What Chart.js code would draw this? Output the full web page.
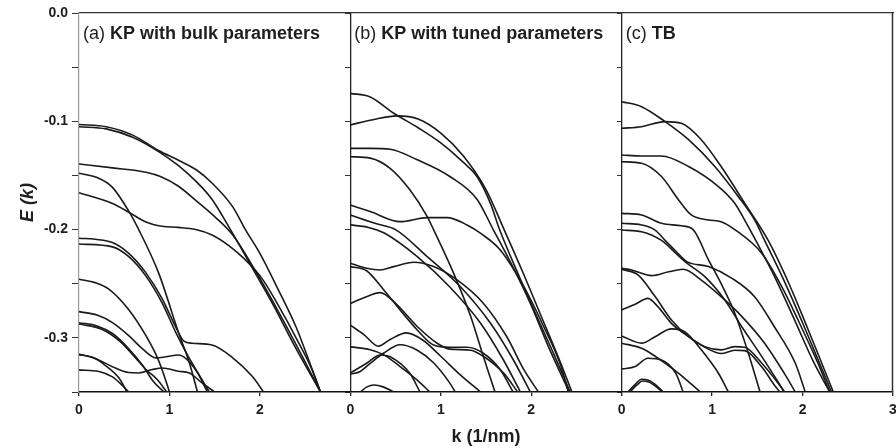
<!DOCTYPE html>
<html><head><meta charset="utf-8">
<script src="https://cdn.jsdelivr.net/npm/chart.js@4"></script>
<style>html,body{margin:0;padding:0;background:#fff;overflow:hidden}#wrap{width:896px;height:448px}</style>
</head><body><div id="wrap"><canvas id="c" width="896" height="448"></canvas></div>
<script>
// k range of each panel (1/nm); panels are drawn side by side on one k axis
const kPanelWidth = 3;
const kTickLabels = ['0','1','2','0','1','2','0','1','2','3'];
const panelTags = ['(a)','(b)','(c)'];
const panelNames = ['KP with bulk parameters','KP with tuned parameters','TB'];

// (a) KP with bulk parameters: each band is a list of [k, E]
const bandsA = [
  [[0,-0.103],[0.3,-0.105],[0.6,-0.113],[0.88,-0.127],[1.1,-0.136],[1.3,-0.145],[1.47,-0.157],[1.7,-0.179],[1.84,-0.2],[2.0,-0.222],[2.2,-0.255],[2.4,-0.29],[2.56,-0.325],[2.67,-0.35]],
  [[0,-0.105],[0.3,-0.107],[0.6,-0.115],[0.88,-0.128],[1.1,-0.141],[1.3,-0.156],[1.47,-0.172],[1.66,-0.198],[1.9,-0.233],[2.15,-0.27],[2.4,-0.31],[2.67,-0.35]],
  [[0,-0.1395],[0.37,-0.143],[0.74,-0.147],[0.9,-0.151],[1.1,-0.16],[1.29,-0.173],[1.5,-0.188],[1.7,-0.205],[1.95,-0.238],[2.2,-0.275],[2.45,-0.314],[2.67,-0.35]],
  [[0,-0.166],[0.37,-0.176],[0.55,-0.184],[0.74,-0.193],[0.92,-0.197],[1.1,-0.198],[1.29,-0.2],[1.47,-0.205],[1.66,-0.215],[1.84,-0.228],[2.03,-0.246],[2.21,-0.271],[2.4,-0.3],[2.58,-0.33],[2.67,-0.35]],
  [[0,-0.148],[0.2,-0.152],[0.37,-0.161],[0.55,-0.183],[0.66,-0.2],[0.88,-0.24],[1.1,-0.295],[1.22,-0.323],[1.31,-0.35]],
  [[0,-0.208],[0.18,-0.209],[0.37,-0.212],[0.55,-0.222],[0.74,-0.24],[0.92,-0.264],[1.07,-0.29],[1.16,-0.303],[1.25,-0.305],[1.47,-0.3066],[1.69,-0.3177],[1.92,-0.336],[2.04,-0.35]],
  [[0,-0.2133],[0.37,-0.216],[0.55,-0.225],[0.74,-0.243],[0.92,-0.268],[1.07,-0.295],[1.2,-0.316],[1.32,-0.333],[1.44,-0.35]],
  [[0,-0.2459],[0.18,-0.249],[0.33,-0.255],[0.55,-0.274],[0.74,-0.298],[0.87,-0.319],[0.95,-0.337],[1.0,-0.35]],
  [[0,-0.2758],[0.2,-0.279],[0.37,-0.286],[0.55,-0.298],[0.7,-0.31],[0.85,-0.3185],[0.96,-0.3175],[1.1,-0.3158],[1.18,-0.319],[1.3,-0.331],[1.42,-0.35]],
  [[0,-0.286],[0.2,-0.289],[0.37,-0.296],[0.55,-0.31],[0.7,-0.325],[0.82,-0.34],[0.94,-0.35]],
  [[0,-0.2872],[0.25,-0.292],[0.45,-0.303],[0.62,-0.318],[0.75,-0.33],[0.86,-0.338],[0.97,-0.35]],
  [[0,-0.3152],[0.18,-0.319],[0.37,-0.3266],[0.55,-0.332],[0.66,-0.3324],[0.81,-0.3293],[0.92,-0.3278],[1.1,-0.3308],[1.22,-0.3324],[1.36,-0.3416],[1.5,-0.35]],
  [[0,-0.3155],[0.15,-0.318],[0.3,-0.326],[0.45,-0.338],[0.53,-0.35]],
  [[0,-0.3296],[0.22,-0.331],[0.37,-0.336],[0.48,-0.344],[0.55,-0.35]]
];

// (b) KP with tuned parameters
const bandsB = [
  [[0,-0.0742],[0.22,-0.0775],[0.48,-0.0926],[0.75,-0.106],[1.0,-0.12],[1.25,-0.138],[1.4,-0.151],[1.55,-0.176],[1.65,-0.2],[1.85,-0.24],[2.05,-0.278],[2.25,-0.315],[2.43,-0.35]],
  [[0,-0.1034],[0.25,-0.0985],[0.52,-0.095],[0.75,-0.098],[1.0,-0.111],[1.25,-0.132],[1.5,-0.163],[1.7,-0.2],[1.9,-0.238],[2.1,-0.278],[2.3,-0.318],[2.45,-0.35]],
  [[0,-0.125],[0.22,-0.125],[0.44,-0.1258],[0.74,-0.1356],[1.1,-0.151],[1.4,-0.172],[1.58,-0.2],[1.8,-0.235],[2.0,-0.27],[2.2,-0.31],[2.42,-0.35]],
  [[0,-0.1773],[0.22,-0.1834],[0.55,-0.1927],[0.85,-0.189],[1.07,-0.189],[1.29,-0.1957],[1.45,-0.204],[1.66,-0.219],[1.92,-0.253],[2.14,-0.29],[2.32,-0.324],[2.41,-0.35]],
  [[0,-0.1327],[0.22,-0.134],[0.44,-0.1434],[0.66,-0.1635],[0.85,-0.188],[0.92,-0.2],[1.14,-0.24],[1.33,-0.28],[1.47,-0.317],[1.6,-0.35]],
  [[0,-0.1865],[0.29,-0.1947],[0.5,-0.2],[0.85,-0.225],[1.22,-0.253],[1.55,-0.2865],[1.8,-0.32],[1.99,-0.35]],
  [[0,-0.1957],[0.2,-0.198],[0.37,-0.203],[0.74,-0.225],[1.1,-0.253],[1.44,-0.2865],[1.69,-0.32],[1.88,-0.35]],
  [[0,-0.231],[0.18,-0.2357],[0.33,-0.2373],[0.48,-0.2342],[0.7,-0.2302],[0.92,-0.2342],[1.18,-0.2465],[1.47,-0.268],[1.73,-0.299],[1.92,-0.3296],[2.08,-0.35]],
  [[0,-0.2342],[0.18,-0.238],[0.37,-0.2558],[0.55,-0.2742],[0.74,-0.2927],[0.92,-0.3066],[1.1,-0.3087],[1.29,-0.3087],[1.47,-0.3142],[1.66,-0.3296],[1.8,-0.35]],
  [[0,-0.2682],[0.15,-0.263],[0.33,-0.2582],[0.48,-0.2665],[0.74,-0.2895],[0.96,-0.305],[1.1,-0.3104],[1.33,-0.3114],[1.47,-0.317],[1.7,-0.333],[1.85,-0.35]],
  [[0,-0.2883],[0.15,-0.297],[0.31,-0.3077],[0.44,-0.3015],[0.62,-0.2954],[0.8,-0.302],[1.0,-0.317],[1.2,-0.333],[1.44,-0.35]],
  [[0,-0.3083],[0.22,-0.311],[0.37,-0.3157],[0.55,-0.3265],[0.74,-0.339],[0.88,-0.35]],
  [[0,-0.3335],[0.11,-0.331],[0.22,-0.3235],[0.37,-0.314],[0.55,-0.3064],[0.74,-0.3114],[0.92,-0.323],[1.1,-0.3418],[1.16,-0.35]],
  [[0,-0.3325],[0.18,-0.3235],[0.33,-0.3158],[0.44,-0.3175],[0.66,-0.333],[0.77,-0.35]],
  [[0.11,-0.35],[0.18,-0.3455],[0.26,-0.3435],[0.37,-0.3455],[0.48,-0.35]]
];

// (c) TB
const bandsC = [
  [[0,-0.0819],[0.22,-0.0865],[0.48,-0.1003],[0.74,-0.117],[1.03,-0.1418],[1.29,-0.1696],[1.47,-0.1911],[1.58,-0.21],[1.8,-0.248],[2.0,-0.286],[2.18,-0.322],[2.32,-0.35]],
  [[0,-0.1065],[0.22,-0.105],[0.48,-0.1003],[0.66,-0.1018],[0.88,-0.117],[1.1,-0.1418],[1.36,-0.1757],[1.62,-0.21],[1.85,-0.25],[2.05,-0.29],[2.22,-0.325],[2.34,-0.35]],
  [[0,-0.1311],[0.22,-0.132],[0.44,-0.132],[0.74,-0.1418],[1.07,-0.1603],[1.25,-0.1757],[1.4,-0.1973],[1.45,-0.205],[1.7,-0.245],[1.92,-0.285],[2.12,-0.322],[2.3,-0.35]],
  [[0,-0.1373],[0.22,-0.1388],[0.44,-0.151],[0.63,-0.1726],[0.77,-0.1865],[0.96,-0.1911],[1.1,-0.1927],[1.25,-0.2],[1.55,-0.222],[1.77,-0.2527],[1.95,-0.2835],[2.17,-0.3235],[2.3,-0.35]],
  [[0,-0.185],[0.22,-0.1865],[0.44,-0.1942],[0.66,-0.1965],[0.79,-0.2],[0.96,-0.228],[1.1,-0.25],[1.25,-0.277],[1.4,-0.314],[1.53,-0.35]],
  [[0,-0.1942],[0.22,-0.1957],[0.37,-0.2005],[0.48,-0.21],[0.6,-0.22],[0.72,-0.2296],[0.96,-0.2342],[1.22,-0.245],[1.47,-0.262],[1.69,-0.29],[1.92,-0.3235],[2.03,-0.35]],
  [[0,-0.2004],[0.22,-0.202],[0.44,-0.21],[0.6,-0.222],[0.7,-0.2296],[0.92,-0.2435],[1.14,-0.265],[1.33,-0.29],[1.55,-0.3173],[1.8,-0.35]],
  [[0,-0.2358],[0.11,-0.2373],[0.33,-0.2425],[0.52,-0.239],[0.68,-0.2367],[0.88,-0.2466],[1.1,-0.262],[1.33,-0.2804],[1.58,-0.305],[1.8,-0.333],[1.92,-0.35]],
  [[0,-0.2367],[0.18,-0.2419],[0.37,-0.2619],[0.55,-0.2835],[0.74,-0.2989],[0.92,-0.3081],[1.1,-0.3111],[1.25,-0.3081],[1.36,-0.3087],[1.55,-0.3235],[1.73,-0.3419],[1.8,-0.35]],
  [[0,-0.2742],[0.15,-0.269],[0.29,-0.2635],[0.4,-0.2712],[0.55,-0.2866],[0.74,-0.2989],[0.92,-0.3087],[1.1,-0.3145],[1.25,-0.3115],[1.36,-0.3118],[1.55,-0.327],[1.7,-0.345],[1.75,-0.35]],
  [[0,-0.2982],[0.22,-0.3049],[0.37,-0.2989],[0.55,-0.2917],[0.7,-0.2945],[0.88,-0.311],[1.07,-0.3327],[1.18,-0.35]],
  [[0,-0.3049],[0.22,-0.3096],[0.37,-0.317],[0.63,-0.3327],[0.87,-0.35]],
  [[0,-0.3289],[0.15,-0.3265],[0.29,-0.3189],[0.44,-0.3204],[0.6,-0.333],[0.68,-0.35]],
  [[0.07,-0.35],[0.15,-0.343],[0.22,-0.3382],[0.29,-0.339],[0.37,-0.343],[0.46,-0.35]],
  [[0.09,-0.35],[0.17,-0.3435],[0.23,-0.3398],[0.3,-0.3408],[0.38,-0.345],[0.45,-0.35]]
];

const FONT = '"Liberation Sans", Arial, Helvetica, sans-serif';
const datasets = [];
[bandsA, bandsB, bandsC].forEach((bands, p) => {
  bands.forEach(b => datasets.push({
    data: b.map(([k, e]) => ({x: k + p * kPanelWidth, y: e})),
    borderColor: '#1a1a1a', borderWidth: 1.6, pointRadius: 0, fill: false,
    cubicInterpolationMode: 'monotone'
  }));
});

const panelLabelPlugin = {
  id: 'panelLabels',
  afterDatasetsDraw(chart) {
    const {ctx, scales: {x, y}, chartArea} = chart;
    ctx.save();
    // right frame edge
    ctx.strokeStyle = '#333';
    ctx.lineWidth = 1.5;
    const xr = Math.round(chartArea.right) - 0.5;
    ctx.beginPath(); ctx.moveTo(xr, chartArea.top); ctx.lineTo(xr, chartArea.bottom); ctx.stroke();
    ctx.fillStyle = '#1e1e1e';
    ctx.textBaseline = 'alphabetic';
    panelTags.forEach((tag, i) => {
      const x0 = x.getPixelForValue(i * kPanelWidth) + 4;
      const yb = y.getPixelForValue(0) + 26;
      ctx.font = '18px ' + FONT;
      ctx.fillText(tag, x0, yb);
      const w = ctx.measureText(tag + ' ').width;
      ctx.font = 'bold 18px ' + FONT;
      ctx.fillText(panelNames[i], x0 + w, yb);
    });
    ctx.restore();
  }
};

// tick marks on the panel separators (pointing into the left panel)
const sepAxis = (kx) => ({
  type: 'linear', position: {x: kx}, min: -0.35, max: 0,
  ticks: {display: false, stepSize: 0.05},
  grid: {drawOnChartArea: false, drawTicks: true, tickLength: 5, tickColor: '#333', lineWidth: 1},
  border: {display: false}
});

new Chart(document.getElementById('c'), {
  type: 'line',
  data: {datasets},
  plugins: [panelLabelPlugin],
  options: {
    responsive: false, animation: false, devicePixelRatio: 1,
    layout: {padding: {top: 13, right: 3, left: 0, bottom: 0}},
    plugins: {legend: {display: false}, tooltip: {enabled: false}},
    scales: {
      x: {
        type: 'linear', position: 'bottom', min: 0, max: 3 * kPanelWidth,
        afterFit: s => { s.height = 56; s.paddingRight = 0; s.paddingLeft = 0; },
        ticks: {stepSize: 1, autoSkip: false, maxRotation: 0, padding: 6,
          callback: v => kTickLabels[Math.round(v)] ?? '',
          font: {family: FONT, size: 14, weight: 'bold'}, color: '#1e1e1e'},
        grid: {
          color: c => (c.tick && (c.tick.value === kPanelWidth || c.tick.value === 2 * kPanelWidth)) ? '#222' : 'rgba(0,0,0,0)',
          lineWidth: 1.3, tickColor: '#222', tickLength: 4, drawOnChartArea: true
        },
        border: {color: '#111', width: 1.5},
        title: {display: true, text: 'k (1/nm)', color: '#1e1e1e',
          font: {family: FONT, size: 18, weight: 'bold'}, padding: {top: 0, bottom: 0}}
      },
      xTop: {
        type: 'linear', position: 'top', min: 0, max: 3 * kPanelWidth,
        afterFit: s => { s.height = 0; s.paddingRight = 0; s.paddingLeft = 0; },
        ticks: {display: false}, grid: {display: false},
        border: {display: true, color: '#333', width: 1.2}
      },
      y: {
        type: 'linear', position: 'left', min: -0.35, max: 0,
        afterFit: s => { s.width = 79; },
        ticks: {stepSize: 0.05, padding: 4, color: '#1e1e1e',
          font: {family: FONT, size: 14, weight: 'bold'},
          callback: v => { const t = Math.round(v * 100); return (t % 10 === 0) ? (t === 0 ? '0.0' : (t / 100).toFixed(1)) : ''; }},
        grid: {drawOnChartArea: false, tickLength: 7, tickColor: '#333'},
        border: {color: '#999', width: 1.2},
        title: {display: true, text: 'E (k)', color: '#1e1e1e',
          font: {family: FONT, size: 18, weight: 'bold', style: 'italic'}, padding: {top: 17, bottom: 0}}
      },
      ySep1: sepAxis(kPanelWidth),
      ySep2: sepAxis(2 * kPanelWidth)
    }
  }
});
</script>
</body></html>
